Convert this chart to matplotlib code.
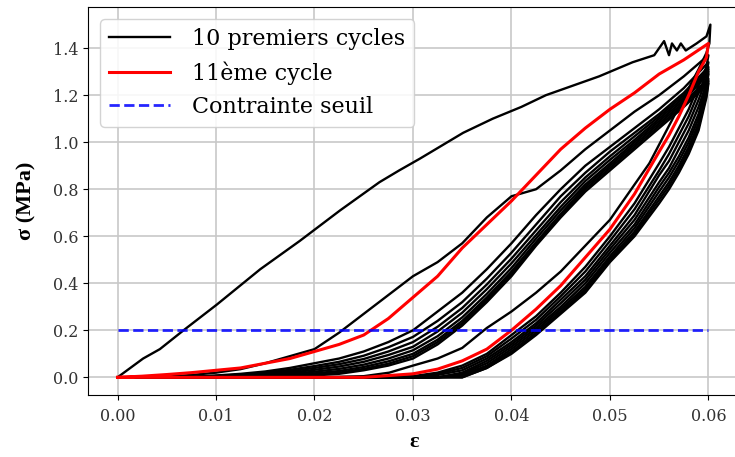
import matplotlib
matplotlib.use("Agg")
import matplotlib.pyplot as plt

# cycle 1 (first loading + unloading)
c1_load_x = [0, 0.0026, 0.0043, 0.0067, 0.0101, 0.0145, 0.0185, 0.0226, 0.0266, 0.0286,
             0.0307, 0.0351, 0.0381, 0.041, 0.0435, 0.0489, 0.0523, 0.0545, 0.0555, 0.056,
             0.0563, 0.0568, 0.0572, 0.0577, 0.0588, 0.0598, 0.0602]
c1_load_y = [0, 0.08, 0.12, 0.20, 0.31, 0.46, 0.58, 0.71, 0.83, 0.88,
             0.93, 1.04, 1.10, 1.15, 1.20, 1.28, 1.34, 1.37, 1.43, 1.37,
             1.42, 1.39, 1.42, 1.39, 1.42, 1.45, 1.50]
c1_unload_x = [0.0602, 0.0601, 0.0598, 0.059, 0.058, 0.057, 0.056, 0.055, 0.054, 0.0525,
               0.05, 0.0475, 0.045, 0.0425, 0.04, 0.0375, 0.035, 0.0325, 0.03, 0.0276,
               0.025, 0.02, 0.0]
c1_unload_y = [1.50, 1.42, 1.38, 1.31, 1.23, 1.15, 1.07, 0.99, 0.91, 0.82,
               0.67, 0.56, 0.45, 0.36, 0.28, 0.21, 0.125, 0.08, 0.05, 0.02,
               0.005, 0, 0]

# loading branches, cycles 2-10 and 11th (red)
load_x = [0, 0.0025, 0.005, 0.0075, 0.01, 0.0125, 0.015, 0.0175, 0.02, 0.0225, 0.025,
          0.0275, 0.03, 0.0325, 0.035, 0.0375, 0.04, 0.0425, 0.045, 0.0475, 0.05,
          0.0525, 0.055, 0.0575, 0.06]
c2_load = [0, 0, 0.003, 0.01, 0.02, 0.035, 0.06, 0.09, 0.12, 0.19, 0.27, 0.35, 0.43, 0.49,
           0.57, 0.68, 0.77, 0.80, 0.88, 0.97, 1.05, 1.13, 1.20, 1.28, 1.37]
c3_load = [0, 0, 0, 0.003, 0.008, 0.015, 0.025, 0.04, 0.06, 0.08, 0.11, 0.15, 0.20, 0.28,
           0.36, 0.46, 0.57, 0.69, 0.80, 0.90, 0.98, 1.06, 1.14, 1.23, 1.34]
c4_load = [0, 0, 0, 0.002, 0.006, 0.012, 0.02, 0.032, 0.048, 0.066, 0.092, 0.128, 0.172,
           0.24, 0.32, 0.42, 0.53, 0.65, 0.77, 0.87, 0.96, 1.04, 1.12, 1.21, 1.32]
c5_load = [0, 0, 0, 0.001, 0.004, 0.009, 0.016, 0.026, 0.04, 0.056, 0.078, 0.11, 0.15,
           0.215, 0.295, 0.395, 0.505, 0.625, 0.745, 0.85, 0.94, 1.025, 1.11, 1.20, 1.31]
c6_load = [0, 0, 0, 0, 0.003, 0.007, 0.012, 0.02, 0.032, 0.046, 0.066, 0.095, 0.13,
           0.195, 0.275, 0.375, 0.485, 0.605, 0.725, 0.835, 0.925, 1.01, 1.10, 1.19, 1.30]
c7_load = [0, 0, 0, 0, 0.002, 0.005, 0.009, 0.015, 0.024, 0.036, 0.054, 0.08, 0.115,
           0.175, 0.255, 0.355, 0.465, 0.59, 0.71, 0.82, 0.91, 1.0, 1.09, 1.18, 1.29]
c8_load = [0, 0, 0, 0, 0.001, 0.003, 0.006, 0.01, 0.017, 0.027, 0.044, 0.068, 0.10,
           0.16, 0.24, 0.34, 0.45, 0.575, 0.695, 0.81, 0.90, 0.99, 1.08, 1.17, 1.27]
c9_load = [0, 0, 0, 0, 0, 0.001, 0.003, 0.006, 0.012, 0.02, 0.036, 0.058, 0.09,
           0.15, 0.23, 0.33, 0.44, 0.565, 0.685, 0.80, 0.89, 0.98, 1.07, 1.16, 1.26]
c10_load = [0, 0, 0, 0, 0, 0, 0, 0.003, 0.008, 0.015, 0.03, 0.05, 0.08,
            0.14, 0.22, 0.32, 0.43, 0.56, 0.68, 0.79, 0.88, 0.97, 1.06, 1.15, 1.25]
c11_load = [0, 0.005, 0.012, 0.02, 0.03, 0.04, 0.06, 0.08, 0.11, 0.14, 0.18, 0.25, 0.34,
            0.43, 0.55, 0.65, 0.75, 0.86, 0.97, 1.06, 1.14, 1.21, 1.29, 1.35, 1.42]

# unloading branches
unload_x = [0.06, 0.0598, 0.059, 0.058, 0.057, 0.056, 0.055, 0.0525, 0.05, 0.0475, 0.045,
            0.0425, 0.04, 0.0375, 0.035, 0.0325, 0.03, 0.025, 0.02, 0.01, 0.0]
c2_unload = [1.37, 1.32, 1.24, 1.14, 1.06, 0.98, 0.91, 0.74, 0.60, 0.47, 0.36,
             0.26, 0.18, 0.10, 0.05, 0.02, 0.005, 0, 0, 0, 0]
c3_unload = [1.34, 1.29, 1.21, 1.11, 1.03, 0.95, 0.88, 0.715, 0.58, 0.45, 0.345,
             0.245, 0.165, 0.09, 0.04, 0.015, 0, 0, 0, 0, 0]
c4_unload = [1.32, 1.27, 1.18, 1.08, 1.00, 0.92, 0.86, 0.69, 0.56, 0.43, 0.33,
             0.23, 0.15, 0.08, 0.03, 0.01, 0, 0, 0, 0, 0]
c5_unload = [1.31, 1.25, 1.15, 1.05, 0.97, 0.89, 0.83, 0.67, 0.545, 0.415, 0.315,
             0.22, 0.14, 0.07, 0.02, 0, 0, 0, 0, 0, 0]
c6_unload = [1.30, 1.24, 1.12, 1.02, 0.94, 0.87, 0.81, 0.65, 0.53, 0.40, 0.30,
             0.21, 0.13, 0.06, 0.015, 0, 0, 0, 0, 0, 0]
c7_unload = [1.29, 1.23, 1.10, 1.00, 0.92, 0.85, 0.79, 0.635, 0.515, 0.385, 0.29,
             0.20, 0.12, 0.05, 0.01, 0, 0, 0, 0, 0, 0]
c8_unload = [1.27, 1.21, 1.08, 0.98, 0.90, 0.83, 0.77, 0.62, 0.505, 0.375, 0.28,
             0.19, 0.11, 0.045, 0.005, 0, 0, 0, 0, 0, 0]
c9_unload = [1.26, 1.20, 1.065, 0.965, 0.885, 0.815, 0.755, 0.61, 0.495, 0.365, 0.275,
             0.185, 0.105, 0.04, 0, 0, 0, 0, 0, 0, 0]
c10_unload = [1.25, 1.19, 1.05, 0.95, 0.87, 0.80, 0.74, 0.60, 0.49, 0.36, 0.27,
              0.18, 0.10, 0.04, 0, 0, 0, 0, 0, 0, 0]
c11_unload = [1.42, 1.36, 1.30, 1.20, 1.11, 1.03, 0.96, 0.78, 0.63, 0.51, 0.39,
              0.29, 0.20, 0.12, 0.07, 0.035, 0.015, 0, 0, 0, 0]

seuil = 0.2
seuil_x = [0, 0.06]

black_loads = [c2_load, c3_load, c4_load, c5_load, c6_load, c7_load, c8_load, c9_load, c10_load]
black_unloads = [c2_unload, c3_unload, c4_unload, c5_unload, c6_unload, c7_unload,
                 c8_unload, c9_unload, c10_unload]

fig = plt.figure(figsize=(7.35, 4.57), dpi=100)
ax = fig.add_axes([0.1197, 0.1357, 0.887, 0.849])

ax.plot(c1_load_x + c1_unload_x, c1_load_y + c1_unload_y, color='black', lw=1.7,
        label='10 premiers cycles')
for ld, ul in zip(black_loads, black_unloads):
    ax.plot(load_x + unload_x, ld + ul, color='black', lw=1.7)
ax.plot(load_x + unload_x, c11_load + c11_unload, color='red', lw=2.2, label='11ème cycle')
ax.plot(seuil_x, [seuil, seuil], color='blue', ls='--', lw=2, alpha=0.85,
        label='Contrainte seuil')

ax.set_xlim(-0.003, 0.0632)
ax.set_ylim(-0.075, 1.575)
ax.set_xticks([0, 0.01, 0.02, 0.03, 0.04, 0.05, 0.06])
ax.set_yticks([0, 0.2, 0.4, 0.6, 0.8, 1.0, 1.2, 1.4])
for lab in ax.get_xticklabels() + ax.get_yticklabels():
    lab.set_family('DejaVu Serif')
    lab.set_fontsize(11.5)
    lab.set_color('#333333')
ax.tick_params(axis='x', pad=6)
ax.grid(True, color='#c8c8c8', lw=1.2)
ax.set_axisbelow(True)

ax.set_xlabel('ε', fontsize=16, fontweight='bold', family='Liberation Serif', labelpad=5)
ax.set_ylabel('σ (MPa)', fontsize=16, fontweight='bold', family='Liberation Serif',
              labelpad=12)

ax.legend(loc='upper left', prop={'family': 'DejaVu Serif', 'size': 16},
          handlelength=2.75, handletextpad=1.0, borderaxespad=0.55, labelspacing=0.5,
          framealpha=0.85)

fig.savefig('out.png', dpi=100)
